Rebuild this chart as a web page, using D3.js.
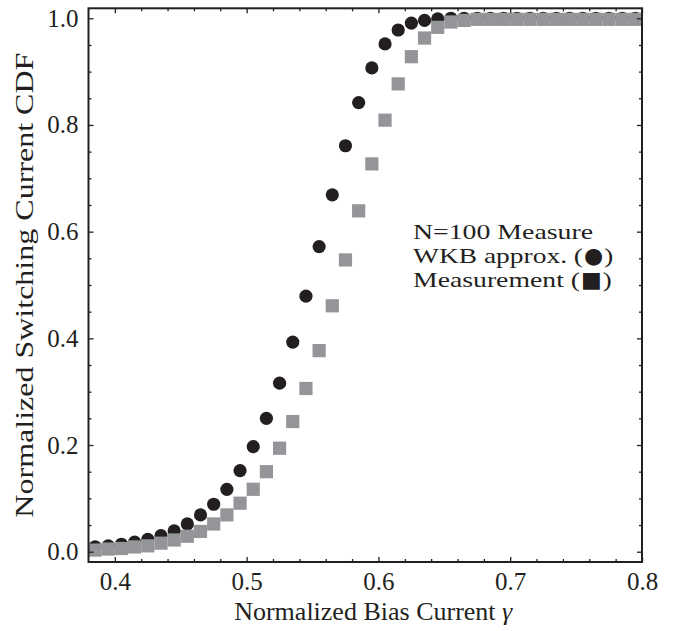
<!DOCTYPE html>
<html>
<head>
<meta charset="utf-8">
<script src="https://cdn.jsdelivr.net/npm/d3@7/dist/d3.min.js"></script>
<style>
  html, body { margin: 0; padding: 0; background: #fff; }
  svg { display: block; }
  text { font-family: "Liberation Serif", "Times New Roman", serif; fill: #231f20; }
</style>
</head>
<body>
<svg id="chart" width="673" height="631"></svg>
<script>
// ---- data ----
const gamma = [0.385,0.395,0.405,0.415,0.425,0.435,0.445,0.455,0.465,0.475,
  0.485,0.495,0.505,0.515,0.525,0.535,0.545,0.555,0.565,0.575,
  0.585,0.595,0.605,0.615,0.625,0.635,0.645,0.655,0.665,0.675,
  0.685,0.695,0.705,0.715,0.725,0.735,0.745,0.755,0.765,0.775,
  0.785,0.795];
const wkb = [0.009,0.011,0.014,0.018,0.023,0.030,0.039,0.052,0.069,0.089,
  0.117,0.152,0.197,0.250,0.316,0.393,0.479,0.572,0.669,0.761,
  0.842,0.907,0.952,0.978,0.991,0.996,0.999,1.0,1.0,1.0,
  1.0,1.0,1.0,1.0,1.0,1.0,1.0,1.0,1.0,1.0,
  1.0,1.0];
const measurement = [0.003,0.005,0.006,0.009,0.011,0.016,0.022,0.029,0.038,0.052,
  0.069,0.091,0.117,0.150,0.194,0.244,0.306,0.377,0.461,0.547,
  0.639,0.727,0.809,0.877,0.928,0.963,0.983,0.993,0.996,0.998,
  0.998,0.998,0.998,0.998,0.998,0.998,0.998,0.998,0.998,0.998,
  0.998,0.998];
const xMajorTicks = [0.4,0.5,0.6,0.7,0.8];
const xMinorTicks = [0.42,0.44,0.46,0.48,0.52,0.54,0.56,0.58,0.62,0.64,0.66,0.68,0.72,0.74,0.76,0.78];
const yMajorTicks = [0.0,0.2,0.4,0.6,0.8,1.0];
const yMinorTicks = [0.05,0.1,0.15,0.25,0.3,0.35,0.45,0.5,0.55,0.65,0.7,0.75,0.85,0.9,0.95];
const xTitle = "Normalized Bias Current ";
const yTitle = "Normalized Switching Current CDF";
const legendText = ["N=100 Measure", "WKB approx. (", "Measurement ("];
const legendSymbols = ["", "\u25CF", "\u25A0"];
const legendClose = ["", ")", ")"];

// ---- layout ----
const L = 88.5, R = 642, T = 8.3, B = 562;
const dark = "#231f20", gray = "#939598";
const svg = d3.select("#chart");

const x = d3.scaleLinear().domain([0.38, 0.8]).range([L, R]);
const y = d3.scaleLinear().domain([-0.0193, 1.0187]).range([B, T]);

// markers: circles first, squares on top
const pts = gamma.map((g, i) => ({g, w: wkb[i], m: measurement[i]}));
svg.append("g").selectAll("circle").data(pts).join("circle")
  .attr("cx", d => x(d.g)).attr("cy", d => y(d.w)).attr("r", 6.6)
  .attr("fill", dark);
const s = 13.2;
svg.append("g").selectAll("rect").data(pts).join("rect")
  .attr("x", d => x(d.g) - s/2).attr("y", d => y(d.m) - s/2)
  .attr("width", s).attr("height", s).attr("fill", gray);

// axes (ticks inward)
const fmt = d3.format(".1f");
function styleAxis(g) {
  g.select(".domain").remove();
  g.selectAll(".tick line").attr("stroke", dark).attr("stroke-width", 1.3);
  g.selectAll(".tick text").style("font-size", "25px").attr("fill", dark)
    .style("font-family", '"Liberation Serif", "Times New Roman", serif');
}
svg.append("g").attr("transform", `translate(0,${B})`)
  .call(d3.axisBottom(x).tickValues(xMajorTicks).tickFormat(fmt).tickSizeInner(-5).tickSizeOuter(0).tickPadding(10))
  .call(styleAxis);
svg.append("g").attr("transform", `translate(0,${B})`)
  .call(d3.axisBottom(x).tickValues(xMinorTicks).tickFormat("").tickSizeInner(-3).tickSizeOuter(0))
  .call(styleAxis);
svg.append("g").attr("transform", `translate(0,${T})`)
  .call(d3.axisTop(x).tickValues(xMajorTicks).tickFormat("").tickSizeInner(-5).tickSizeOuter(0))
  .call(styleAxis);
svg.append("g").attr("transform", `translate(0,${T})`)
  .call(d3.axisTop(x).tickValues(xMinorTicks).tickFormat("").tickSizeInner(-3).tickSizeOuter(0))
  .call(styleAxis);
svg.append("g").attr("transform", `translate(${L},0)`)
  .call(d3.axisLeft(y).tickValues(yMajorTicks).tickFormat(fmt).tickSizeInner(-5).tickSizeOuter(0).tickPadding(10))
  .call(styleAxis);
svg.append("g").attr("transform", `translate(${L},0)`)
  .call(d3.axisLeft(y).tickValues(yMinorTicks).tickFormat("").tickSizeInner(-3).tickSizeOuter(0))
  .call(styleAxis);
svg.append("g").attr("transform", `translate(${R},0)`)
  .call(d3.axisRight(y).tickValues(yMajorTicks).tickFormat("").tickSizeInner(-5).tickSizeOuter(0))
  .call(styleAxis);
svg.append("g").attr("transform", `translate(${R},0)`)
  .call(d3.axisRight(y).tickValues(yMinorTicks).tickFormat("").tickSizeInner(-3).tickSizeOuter(0))
  .call(styleAxis);

// frame
svg.append("rect").attr("x", L).attr("y", T).attr("width", R - L).attr("height", B - T)
  .attr("fill", "none").attr("stroke", dark).attr("stroke-width", 2);

// axis titles
const xt = svg.append("text").attr("x", (L + R) / 2 + 8).attr("y", 620)
  .attr("text-anchor", "middle").style("font-size", "26px");
xt.append("tspan").text(xTitle);
xt.append("tspan").style("font-style", "italic").text("\u03B3");

svg.append("text").attr("transform", `translate(33,${(T + B) / 2}) rotate(-90)`)
  .attr("text-anchor", "middle").style("font-size", "26px")
  .attr("textLength", 465).attr("lengthAdjust", "spacingAndGlyphs").text(yTitle);

// legend text: main part stretched to the reference width, symbols kept round
const legendMainWidths = [180, 170, 167];
const lx = 413, ly0 = 239, ldy = 24;
const lgroup = svg.append("g");
legendText.forEach((t, i) => {
  const yy = ly0 + i * ldy;
  lgroup.append("text").attr("x", lx).attr("y", yy).style("font-size", "22px")
    .attr("textLength", legendMainWidths[i]).attr("lengthAdjust", "spacingAndGlyphs").text(t);
  if (legendSymbols[i]) {
    const sx = lx + legendMainWidths[i] + 1;
    const sym = lgroup.append("text").attr("x", sx).attr("y", yy)
      .style("font-family", '"DejaVu Sans", sans-serif').style("font-size", "22px")
      .text(legendSymbols[i]);
    const sw = sym.node().getComputedTextLength();
    lgroup.append("text").attr("x", sx + sw + 1).attr("y", yy).style("font-size", "22px")
      .attr("textLength", 9).attr("lengthAdjust", "spacingAndGlyphs").text(legendClose[i]);
  }
});
</script>
</body>
</html>
